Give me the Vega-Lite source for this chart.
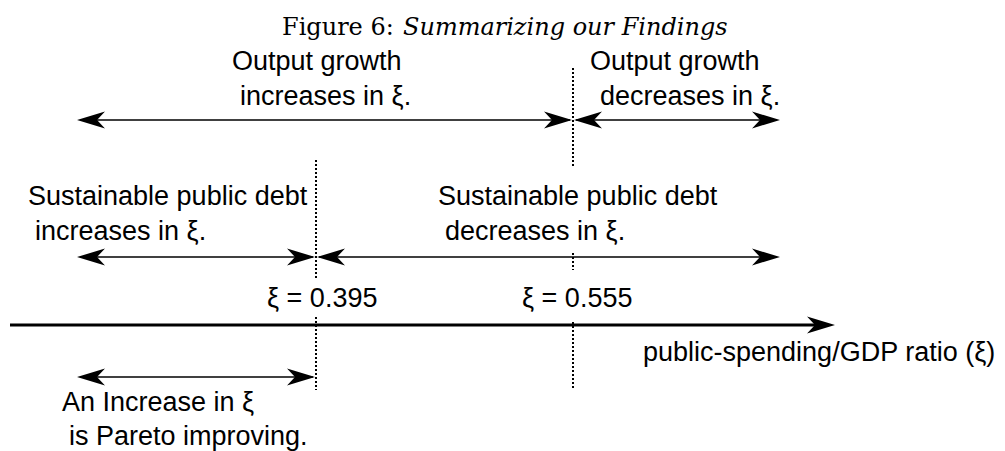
{
  "$schema": "https://vega.github.io/schema/vega-lite/v6.json",
  "width": 1005,
  "height": 451,
  "autosize": {"type": "fit", "contains": "padding"},
  "padding": 0,
  "background": "white",
  "view": {"stroke": null},
  "datasets": {
    "dotted": [
      {"x": 573, "y1": 68, "y2": 168},
      {"x": 573, "y1": 253, "y2": 270},
      {"x": 573, "y1": 322, "y2": 390},
      {"x": 316, "y1": 160, "y2": 278},
      {"x": 316, "y1": 317, "y2": 390}
    ],
    "shafts": [
      {"x1": 80, "x2": 570, "y": 120},
      {"x1": 576, "x2": 777, "y": 120},
      {"x1": 80, "x2": 313, "y": 257},
      {"x1": 319, "x2": 777, "y": 257},
      {"x1": 80, "x2": 313, "y": 377}
    ],
    "axisline": [
      {"x1": 10, "x2": 825, "y": 325}
    ],
    "heads": [
      {"x": 77, "y": 120, "dir": 180},
      {"x": 572, "y": 120, "dir": 0},
      {"x": 574, "y": 120, "dir": 180},
      {"x": 780, "y": 120, "dir": 0},
      {"x": 77, "y": 257, "dir": 180},
      {"x": 315, "y": 257, "dir": 0},
      {"x": 317, "y": 257, "dir": 180},
      {"x": 780, "y": 257, "dir": 0},
      {"x": 835, "y": 325, "dir": 0},
      {"x": 77, "y": 377, "dir": 180},
      {"x": 315, "y": 377, "dir": 0}
    ],
    "labels": [
      {"x": 232, "y": 70, "text": "Output growth"},
      {"x": 240, "y": 105, "text": "increases in ξ."},
      {"x": 590, "y": 70, "text": "Output growth"},
      {"x": 600, "y": 105, "text": "decreases in ξ."},
      {"x": 28, "y": 205, "text": "Sustainable public debt"},
      {"x": 35, "y": 240, "text": "increases in ξ."},
      {"x": 438, "y": 205, "text": "Sustainable public debt"},
      {"x": 445, "y": 240, "text": "decreases in ξ."},
      {"x": 267, "y": 307, "text": "ξ = 0.395"},
      {"x": 522, "y": 307, "text": "ξ = 0.555"},
      {"x": 643, "y": 361, "text": "public-spending/GDP ratio (ξ)"},
      {"x": 62, "y": 411, "text": "An Increase in ξ"},
      {"x": 69, "y": 445, "text": "is Pareto improving."}
    ],
    "titleA": [{"x": 282, "y": 35, "text": "Figure 6:"}],
    "titleB": [{"x": 403, "y": 35, "text": "Summarizing our Findings"}]
  },
  "layer": [
    {
      "data": {"name": "dotted"},
      "mark": {"type": "rule", "color": "black", "strokeWidth": 2, "strokeDash": [2, 2]},
      "encoding": {
        "x": {"field": "x", "type": "quantitative", "scale": {"domain": [0, 1005], "nice": false, "zero": false}, "axis": null},
        "y": {"field": "y1", "type": "quantitative", "scale": {"domain": [0, 451], "nice": false, "zero": false, "reverse": true}, "axis": null},
        "y2": {"field": "y2"}
      }
    },
    {
      "data": {"name": "shafts"},
      "mark": {"type": "rule", "color": "black", "strokeWidth": 1.6},
      "encoding": {
        "x": {"field": "x1", "type": "quantitative"},
        "x2": {"field": "x2"},
        "y": {"field": "y", "type": "quantitative"}
      }
    },
    {
      "data": {"name": "axisline"},
      "mark": {"type": "rule", "color": "black", "strokeWidth": 3},
      "encoding": {
        "x": {"field": "x1", "type": "quantitative"},
        "x2": {"field": "x2"},
        "y": {"field": "y", "type": "quantitative"}
      }
    },
    {
      "data": {"name": "heads"},
      "mark": {"type": "point", "shape": "M0,0L-28,-8.5L-20,0L-28,8.5Z", "filled": true, "color": "black", "opacity": 1, "size": 4, "strokeWidth": 0},
      "encoding": {
        "x": {"field": "x", "type": "quantitative"},
        "y": {"field": "y", "type": "quantitative"},
        "angle": {"field": "dir", "type": "quantitative", "scale": null}
      }
    },
    {
      "data": {"name": "labels"},
      "mark": {"type": "text", "align": "left", "baseline": "alphabetic", "font": "Liberation Sans", "fontSize": 27, "color": "black"},
      "encoding": {
        "x": {"field": "x", "type": "quantitative"},
        "y": {"field": "y", "type": "quantitative"},
        "text": {"field": "text"}
      }
    },
    {
      "data": {"name": "titleA"},
      "mark": {"type": "text", "align": "left", "baseline": "alphabetic", "font": "DejaVu Serif", "fontSize": 24, "color": "black"},
      "encoding": {
        "x": {"field": "x", "type": "quantitative"},
        "y": {"field": "y", "type": "quantitative"},
        "text": {"field": "text"}
      }
    },
    {
      "data": {"name": "titleB"},
      "mark": {"type": "text", "align": "left", "baseline": "alphabetic", "font": "DejaVu Serif", "fontSize": 24, "fontStyle": "italic", "color": "black"},
      "encoding": {
        "x": {"field": "x", "type": "quantitative"},
        "y": {"field": "y", "type": "quantitative"},
        "text": {"field": "text"}
      }
    }
  ]
}
